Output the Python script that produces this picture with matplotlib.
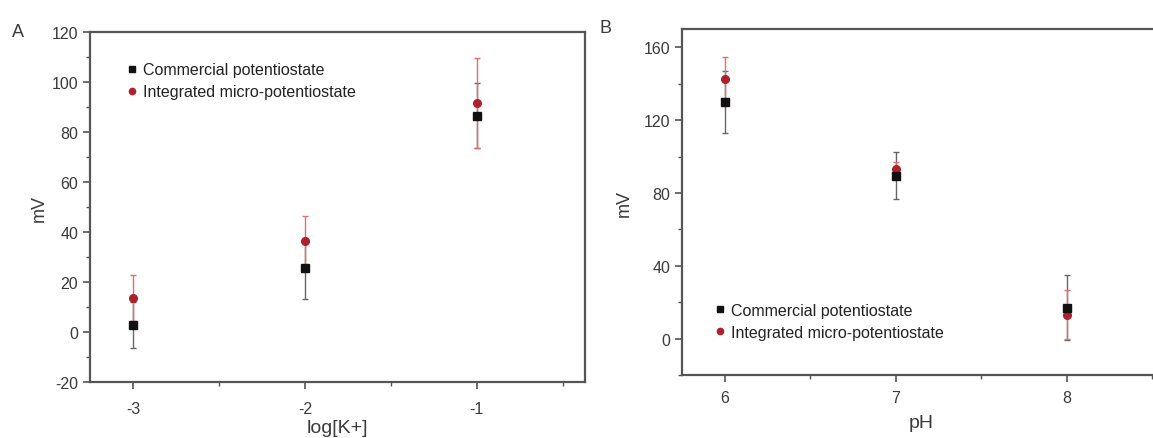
import matplotlib
matplotlib.use("Agg")
import matplotlib.pyplot as plt
from matplotlib.lines import Line2D
from matplotlib.ticker import MultipleLocator

plt.rcParams['font.family'] = ['Liberation Sans', 'DejaVu Sans']
plt.rcParams['axes.unicode_minus'] = False

# Panel A: response vs potassium concentration
logK = [-3, -2, -1]
comm_A = [2.8, 25.5, 86.5]
comm_A_err = [9.2, 12.3, 13.0]
integ_A = [13.6, 36.5, 91.6]
integ_A_err = [9.2, 9.8, 18.0]

# Panel B: response vs pH
pH = [6, 7, 8]
comm_B = [130, 89.5, 17]
comm_B_err = [17, 13, 18]
integ_B = [142.7, 93, 13.2]
integ_B_err = [12, 4, 13.5]

labels = ["Commercial potentiostate", "Integrated micro-potentiostate"]

spine_col = "#555555"
text_col = "#3a3a3a"
black_mk = "#111111"
red_mk = "#b0202a"


def style_axes(ax, ymaj, ymin):
    for s in ax.spines.values():
        s.set_color(spine_col)
        s.set_linewidth(1.6)
    ax.yaxis.set_major_locator(MultipleLocator(ymaj))
    ax.yaxis.set_minor_locator(MultipleLocator(ymin))
    ax.xaxis.set_major_locator(MultipleLocator(1))
    ax.xaxis.set_minor_locator(MultipleLocator(0.5))
    ax.tick_params(which='major', direction='out', length=5, width=1.2,
                   color=spine_col, labelcolor=text_col, labelsize=11.5)
    ax.tick_params(which='minor', direction='out', length=3, width=1.0,
                   color=spine_col)


def draw(ax, x, c, ce, i, ie):
    ax.errorbar(x, c, yerr=ce, fmt='none', ecolor="#666666",
                elinewidth=1.0, capsize=2.5, capthick=1.0, zorder=2)
    ax.errorbar(x, i, yerr=ie, fmt='none', ecolor="#e07070",
                elinewidth=1.0, capsize=2.5, capthick=1.0, zorder=2)
    ax.plot(x, c, 's', color=black_mk, ms=5.5, zorder=4)
    ax.plot(x, i, 'o', color=red_mk, ms=5.5, zorder=3)


def add_legend(ax, **kw):
    handles = [Line2D([], [], ls='none', marker='s', color=black_mk, ms=4.5),
               Line2D([], [], ls='none', marker='o', color=red_mk, ms=4.5)]
    leg = ax.legend(handles, labels, frameon=False, fontsize=11.5,
                    handletextpad=0.2, handlelength=1.0, labelspacing=0.45, **kw)
    for t in leg.get_texts():
        t.set_color("#222222")


fig = plt.figure(figsize=(11.53, 4.39), dpi=100)

axA = fig.add_axes([0.0781, 0.1276, 0.4293, 0.797])
draw(axA, logK, comm_A, comm_A_err, integ_A, integ_A_err)
axA.set_xlim(-3.25, -0.37)
axA.set_ylim(-20, 120)
style_axes(axA, 20, 10)
axA.tick_params(axis='x', which='major', pad=9)
axA.set_xlabel("log[K+]", fontsize=14, color=text_col, labelpad=2)
axA.set_ylabel("mV", fontsize=13, color=text_col, labelpad=3)
add_legend(axA, loc='upper left', bbox_to_anchor=(0.04, 0.955))
fig.text(0.010, 0.915, "A", fontsize=13, color=text_col)

axB = fig.add_axes([0.5915, 0.1435, 0.4154, 0.788])
draw(axB, pH, comm_B, comm_B_err, integ_B, integ_B_err)
axB.set_xlim(5.75, 8.55)
axB.set_ylim(-20, 170)
style_axes(axB, 40, 20)
axB.tick_params(axis='x', which='major', pad=6)
axB.set_xlabel("pH", fontsize=14, color=text_col, labelpad=6)
axB.set_ylabel("mV", fontsize=13, color=text_col, labelpad=8)
add_legend(axB, loc='lower left', bbox_to_anchor=(0.033, 0.06))
fig.text(0.520, 0.925, "B", fontsize=13, color=text_col)

fig.savefig("out.png", dpi=100)
